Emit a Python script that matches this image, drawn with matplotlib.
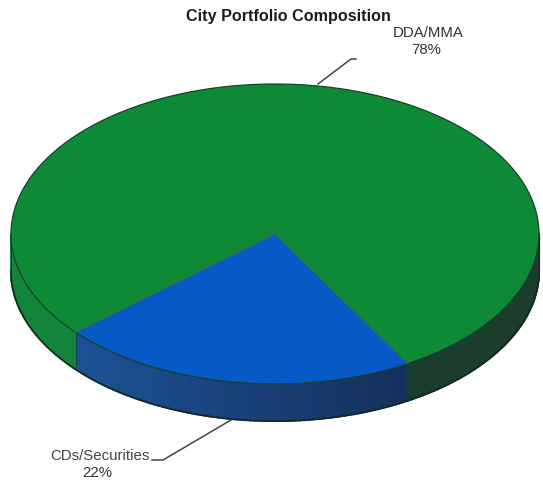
import numpy as np
import matplotlib
matplotlib.use('Agg')
import matplotlib.pyplot as plt
from matplotlib.colors import to_rgb

# Slice data
labels = ['CDs/Securities', 'DDA/MMA']
shares = [22, 78]
top_colors = ['#0759c6', '#0e8a37']
side_left = ['#1b5296', '#12853a']
side_right = ['#16305c', '#1b3d2c']

# Pie geometry, in pixels of the 543x484 picture
cx, cy = 275, 234
rx, ry = 264, 150
depth = 37
start_angle = 221


def rim(theta):
    t = np.radians(theta)
    return cx + rx * np.cos(t), cy - ry * np.sin(t)


fig = plt.figure(figsize=(5.43, 4.84), dpi=100)
ax = fig.add_axes([0, 0, 1, 1])
ax.set_xlim(0, 543)
ax.set_ylim(484, 0)
ax.axis('off')

plt.rcParams['font.family'] = ['Liberation Sans', 'DejaVu Sans']

# Work out the angular range of each slice
spans = []
a = start_angle
for s in shares:
    spans.append((a, a + s * 3.6))
    a += s * 3.6

# Side wall, only the front half is visible (180..360 degrees)
for i, (a0, a1) in enumerate(spans):
    for lo, hi in [(a0, a1), (a0 - 360, a1 - 360)]:
        lo, hi = max(lo, 180), min(hi, 360)
        if hi <= lo:
            continue
        edges = np.linspace(lo, hi, int(hi - lo) + 2)
        for e0, e1 in zip(edges[:-1], edges[1:]):
            x0, y0 = rim(e0)
            x1, y1 = rim(e1)
            f = np.clip(((x0 + x1) / 2 - 78) / (406 - 78), 0, 1)
            if i == 1:
                f = f ** 1.5
            col = (1 - f) * np.array(to_rgb(side_left[i])) + f * np.array(to_rgb(side_right[i]))
            ax.fill([x0, x1, x1, x0], [y0, y1, y1 + depth, y0 + depth],
                    color=col, lw=1.5, zorder=2)

# Outer dark line of the wall
tt = np.linspace(180, 360, 200)
bx, by = rim(tt)
ax.plot(bx, by + depth, color='#14261e', lw=1.1, zorder=3)
ax.plot([rim(180)[0]] * 2, [cy, cy + depth], color='#14402a', lw=0.8, zorder=3)
ax.plot([rim(360)[0]] * 2, [cy, cy + depth], color='#14261e', lw=0.8, zorder=3)

# Top face
for i, (a0, a1) in enumerate(spans):
    tt = np.linspace(a0, a1, 300)
    xs, ys = rim(tt)
    ax.fill(np.r_[cx, xs], np.r_[cy, ys], color=top_colors[i], lw=0, zorder=4)

# Outlines of the top face
tt = np.linspace(0, 360, 400)
xs, ys = rim(tt)
ax.plot(xs, ys, color='#17402a', lw=0.9, zorder=5)
for a0, _ in spans:
    x, y = rim(a0)
    ax.plot([cx, x], [cy, y], color='#2f6b55', lw=0.9, zorder=5)
    ax.plot([x, x], [y, y + depth], color='#1a3a4a', lw=0.6, zorder=3)

# Title, labels and leader lines
ax.text(288.5, 16, 'City Portfolio Composition', ha='center', va='center',
        fontsize=11.6, fontweight='bold', color='#1c1c1c')
ax.text(428, 33, labels[1], ha='center', va='center', fontsize=10.8, color='#333333')
ax.text(426, 50, f'{shares[1]}%', ha='center', va='center', fontsize=10.8, color='#333333')
ax.text(99.5, 456, labels[0], ha='center', va='center', fontsize=10.8, color='#444444')
ax.text(97, 473, f'{shares[0]}%', ha='center', va='center', fontsize=10.8, color='#333333')
ax.plot([318, 351, 356], [84, 59, 59], color='#444444', lw=1.1, zorder=1)
ax.plot([231, 163, 152], [420, 460, 460], color='#444444', lw=1.1, zorder=1)

fig.savefig('out.png', dpi=100)
